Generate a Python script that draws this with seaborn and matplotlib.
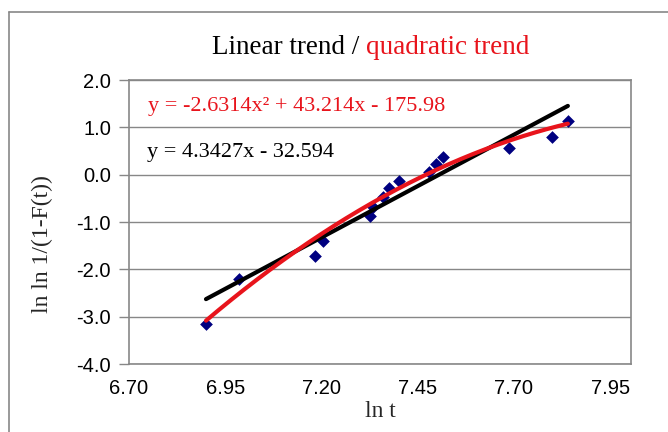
import numpy as np
import pandas as pd
import matplotlib
matplotlib.use("Agg")
import matplotlib.pyplot as plt
from matplotlib.lines import Line2D
import seaborn as sns

# Weibull plot data: ln t versus ln ln 1/(1-F(t))
ln_t = [6.900, 6.987, 7.183, 7.203, 7.326, 7.333, 7.359, 7.375,
        7.402, 7.478, 7.497, 7.515, 7.688, 7.798, 7.840]
ln_ln = [-3.155, -2.211, -1.719, -1.408, -0.873, -0.676, -0.465, -0.289,
         -0.127, 0.063, 0.225, 0.367, 0.570, 0.803, 1.141]

# Trend line coefficients (highest power first)
linear_coef = [4.3427, -32.594]
quad_coef = [-2.6314, 43.214, -175.98]

x_ticks = [6.70, 6.95, 7.20, 7.45, 7.70, 7.95]
y_ticks = [-4.0, -3.0, -2.0, -1.0, 0.0, 1.0, 2.0]

RED = "#E8141C"
NAVY = "#000080"
GRAY = "#878787"

sns.set_style("white")
plt.rcParams["font.family"] = ["Liberation Sans", "DejaVu Sans"]
plt.rcParams["axes.unicode_minus"] = False

W, H = 668, 432
fig = plt.figure(figsize=(W / 100, H / 100), dpi=100)
ax = fig.add_axes([129 / W, 1 - 364 / H, 502 / W, 284 / H])

pts = pd.DataFrame({"ln_t": ln_t, "ln_ln": ln_ln})
sns.scatterplot(data=pts, x="ln_t", y="ln_ln", marker="D", s=42,
                color=NAVY, edgecolor=NAVY, linewidth=0, ax=ax, zorder=3)

xs = np.linspace(min(ln_t), max(ln_t), 200)
trend = pd.DataFrame({
    "x": xs,
    "lin": np.polyval(linear_coef, xs),
    "quad": np.polyval(quad_coef, xs),
})
sns.lineplot(data=trend, x="x", y="lin", color="black", linewidth=3.0,
             ax=ax, zorder=4)
sns.lineplot(data=trend, x="x", y="quad", color=RED, linewidth=3.0,
             ax=ax, zorder=5)

ax.set_xlim(6.70, 8.004)
ax.set_ylim(-4.0, 2.0)
ax.set_xticks(x_ticks)
ax.set_xticklabels([f"{v:.2f}" for v in x_ticks])
ax.set_yticks(y_ticks)
ax.set_yticklabels([f"{v:.1f}" for v in y_ticks])
ax.tick_params(axis="x", length=0, pad=11, labelsize=14.5, colors="black")
ax.tick_params(axis="y", length=7, width=1, color=GRAY, pad=6,
               labelsize=14.5, labelcolor="black", direction="out", left=True)
ax.yaxis.grid(True, color=GRAY, linewidth=1.0)
ax.xaxis.grid(False)
ax.set_axisbelow(True)
for sp in ax.spines.values():
    sp.set_visible(True)
    sp.set_color(GRAY)
    sp.set_linewidth(1.2)

serif = ["Liberation Serif", "DejaVu Serif"]
ax.set_xlabel("ln t", family=serif, fontsize=17)
ax.set_ylabel("ln ln 1/(1-F(t))", family=serif, fontsize=17)
ax.xaxis.set_label_coords(0.5, (364 - 401) / 284)
ax.yaxis.set_label_coords((53 - 129) / 502, 0.4225)

# Title in two colours
t1 = fig.text(212 / W, 1 - 60 / H, "Linear trend /", family=serif,
              fontsize=19.5, color="black", ha="left", va="bottom")
ax.annotate("quadratic trend", xy=(1, 0), xycoords=t1,
            xytext=(5, 0), textcoords="offset points",
            family=serif, fontsize=19.5, color=RED, ha="left", va="bottom")

# Trend line equations
ax.text(148 / W, 1 - 106 / H, "y = -2.6314x\u00b2 + 43.214x - 175.98",
        transform=fig.transFigure, family=serif, fontsize=16,
        color=RED, ha="left", va="center")
ax.text(147 / W, 1 - 152 / H, "y = 4.3427x - 32.594",
        transform=fig.transFigure, family=serif, fontsize=16,
        color="black", ha="left", va="center")

# Chart area border
fig.add_artist(Line2D([8.5 / W, 8.5 / W], [-0.1, 1 - 12 / H],
                      transform=fig.transFigure, color=GRAY, linewidth=1.2))
fig.add_artist(Line2D([8.5 / W, 1.1], [1 - 12 / H, 1 - 12 / H],
                      transform=fig.transFigure, color=GRAY, linewidth=1.2))

fig.savefig("out.png", dpi=100)
